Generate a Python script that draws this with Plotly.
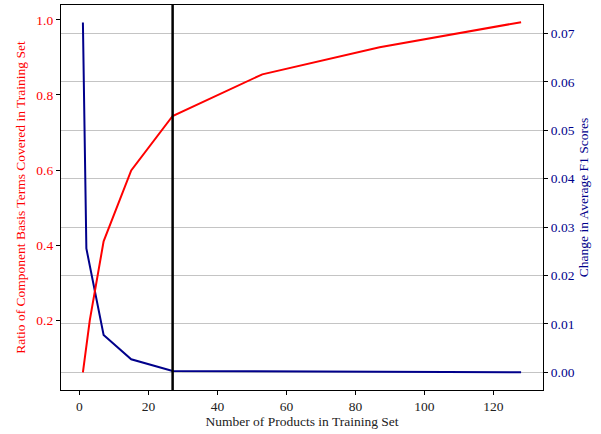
import plotly.graph_objects as go

# Data
red_x = [1, 3, 7, 15, 27, 53, 87, 128]
red_y = [0.061, 0.200, 0.410, 0.599, 0.744, 0.855, 0.927, 0.994]

blue_x = [1, 2, 7, 15, 27, 53, 87, 128]
blue_y = [0.0723, 0.0256, 0.0077, 0.0027, 0.0003, 0.0002, 0.0001, 0.0000]

cutoff_x = 27

x_ticks = [0, 20, 40, 60, 80, 100, 120]
left_ticks = [0.2, 0.4, 0.6, 0.8, 1.0]
right_ticks = [0.00, 0.01, 0.02, 0.03, 0.04, 0.05, 0.06, 0.07]

FONT = "Liberation Serif"
RED = "#ff0000"
BLUE = "#00008b"
TICK_SIZE = 13.5
TITLE_SIZE = 13.5

fig = go.Figure()

# Blue on the main (right-side) axis so its grid sits behind everything
fig.add_trace(go.Scatter(x=blue_x, y=blue_y, mode="lines", yaxis="y",
                         line=dict(color=BLUE, width=2), showlegend=False))
fig.add_trace(go.Scatter(x=red_x, y=red_y, mode="lines", yaxis="y2",
                         line=dict(color=RED, width=2), showlegend=False))

fig.add_shape(type="line", xref="x", yref="paper", x0=cutoff_x, x1=cutoff_x,
              y0=0, y1=1, line=dict(color="black", width=2.5), layer="above")

fig.update_layout(
    width=601, height=434,
    margin=dict(l=61, r=58, t=5, b=44),
    plot_bgcolor="white", paper_bgcolor="white",
    font=dict(family=FONT, size=TICK_SIZE, color="black"),
    xaxis=dict(
        range=[-5.35, 134.35], tickvals=x_ticks, ticks="outside", ticklen=4,
        tickcolor="black", showline=True, linecolor="black", linewidth=1.3,
        mirror=True, showgrid=False, zeroline=False,
        tickfont=dict(family=FONT, size=TICK_SIZE, color="#222"),
        title=dict(text="Number of Products in Training Set",
                   font=dict(family=FONT, size=TITLE_SIZE, color="#222"), standoff=2),
    ),
    yaxis=dict(
        side="right", range=[-0.00365, 0.0759], tickvals=right_ticks,
        tickformat=".2f", ticks="outside", ticklen=4, tickcolor="black",
        showline=True, linecolor="black", linewidth=1.3,
        showgrid=True, gridcolor="#c4c4c4", gridwidth=1, zeroline=False,
        tickfont=dict(family=FONT, size=TICK_SIZE, color=BLUE),
        title=dict(text="Change in Average F1 Scores",
                   font=dict(family=FONT, size=TITLE_SIZE, color=BLUE), standoff=4),
    ),
    yaxis2=dict(
        side="left", overlaying="y", range=[0.014, 1.0397], tickvals=left_ticks,
        tickformat=".1f", ticks="outside", ticklen=4, tickcolor="black",
        showline=True, linecolor="black", linewidth=1.3,
        showgrid=False, zeroline=False,
        tickfont=dict(family=FONT, size=TICK_SIZE, color=RED),
        title=dict(text="Ratio of Component Basis Terms Covered in Training Set",
                   font=dict(family=FONT, size=TITLE_SIZE, color=RED), standoff=7),
    ),
)

fig.write_html("out.html")
